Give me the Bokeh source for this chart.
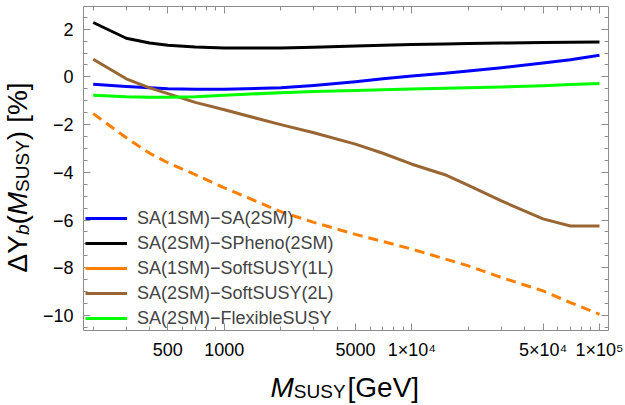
import math
from bokeh.plotting import figure
from bokeh.models import (Range1d, FixedTicker, LogAxis, LinearAxis, Legend,
                          LegendItem, Label)
from bokeh.embed import file_html
from bokeh.resources import INLINE

# ---------------- data ----------------
mass = [200, 300, 400, 500, 700, 1000, 2000, 3000, 5000, 7000,
        10000, 15000, 20000, 30000, 50000, 70000, 100000]
sa1_sa2 = [-0.31, -0.40, -0.46, -0.50, -0.52, -0.52, -0.46, -0.36, -0.20, -0.08,
           0.04, 0.15, 0.25, 0.38, 0.58, 0.72, 0.91]
sa2_spheno = [2.28, 1.62, 1.42, 1.33, 1.25, 1.21, 1.21, 1.24, 1.29, 1.33,
              1.36, 1.38, 1.40, 1.42, 1.44, 1.45, 1.46]
sa1_soft1l = [-1.54, -2.55, -3.20, -3.60, -4.10, -4.65, -5.65, -6.10, -6.60, -6.90,
              -7.22, -7.63, -7.92, -8.41, -8.97, -9.46, -9.95]
sa2_soft2l = [0.74, -0.08, -0.46, -0.70, -1.07, -1.38, -2.00, -2.34, -2.82, -3.20,
              -3.66, -4.10, -4.55, -5.20, -5.95, -6.25, -6.25]
sa2_flex = [-0.77, -0.83, -0.85, -0.85, -0.83, -0.77, -0.66, -0.61, -0.57, -0.54,
            -0.51, -0.48, -0.46, -0.42, -0.37, -0.32, -0.28]

series_names = ["SA(1SM)\u2212SA(2SM)", "SA(2SM)\u2212SPheno(2SM)",
                "SA(1SM)\u2212SoftSUSY(1L)", "SA(2SM)\u2212SoftSUSY(2L)",
                "SA(2SM)\u2212FlexibleSUSY"]

x_ticks = [500, 1000, 5000, 10000, 50000, 100000]
x_tick_labels = ["500", "1000", "5000", "1\u00d710\u2074", "5\u00d710\u2074", "1\u00d710\u2075"]
x_minor = [200, 300, 400, 600, 700, 800, 900, 2000, 3000, 4000, 6000, 7000, 8000, 9000,
           20000, 30000, 40000, 60000, 70000, 80000, 90000]
y_ticks = [-10, -8, -6, -4, -2, 0, 2]
y_tick_labels = ["\u221210", "\u22128", "\u22126", "\u22124", "\u22122", "0", "2"]
y_minor = [v / 2 for v in range(-21, 6)]

# ---------------- geometry ----------------
X0, X1 = 177.5, 111700.0      # visible plot box (data)
Y0, Y1 = -10.63, 2.95
L, R, T, B = 83, 17, 6, 75    # box margins in pixels
W, H = 625, 405
PXD = (W - L - R) / (math.log10(X1) - math.log10(X0))
PYU = (H - T - B) / (Y1 - Y0)
XA = 10 ** (math.log10(X0) - L / PXD)
XB = 10 ** (math.log10(X1) + R / PXD)
YA = Y0 - B / PYU
YB = Y1 + T / PYU

p = figure(width=W, height=H, x_axis_type="log", output_backend="svg",
           toolbar_location=None, x_range=Range1d(XA, XB), y_range=Range1d(YA, YB),
           min_border=0, min_border_left=0, min_border_right=0,
           min_border_top=0, min_border_bottom=0)
p.grid.visible = False
p.outline_line_color = None
p.background_fill_color = "white"
p.border_fill_color = "white"

FONT = "Liberation Sans"
GRAY = "#8c8c8c"

def style_axis(ax, show_labels):
    ax.axis_line_color = GRAY
    ax.axis_line_width = 1
    ax.major_tick_line_color = GRAY
    ax.minor_tick_line_color = GRAY
    ax.major_tick_in = 7
    ax.major_tick_out = 0
    ax.minor_tick_in = 4
    ax.minor_tick_out = 0
    ax.major_label_text_font = FONT
    ax.major_label_text_font_size = "18px"
    if show_labels:
        ax.major_label_text_color = "black"
    else:
        ax.major_label_text_color = None
        ax.major_label_standoff = 0

xa = p.xaxis[0]
xa.ticker = FixedTicker(ticks=x_ticks, minor_ticks=x_minor)
xa.major_label_overrides = {float(k): v for k, v in zip(x_ticks, x_tick_labels)}
style_axis(xa, True)
xa.major_label_standoff = 9
xa.fixed_location = Y0
xa.bounds = (X0, X1)

ya = p.yaxis[0]
ya.ticker = FixedTicker(ticks=y_ticks, minor_ticks=y_minor)
ya.major_label_overrides = {float(k): v for k, v in zip(y_ticks, y_tick_labels)}
style_axis(ya, True)
ya.major_label_standoff = 10
ya.fixed_location = X0
ya.bounds = (Y0, Y1)

top = LogAxis(ticker=FixedTicker(ticks=x_ticks, minor_ticks=x_minor),
              fixed_location=Y1, bounds=(X0, X1))
style_axis(top, False)
p.add_layout(top, "above")
right = LinearAxis(ticker=FixedTicker(ticks=y_ticks, minor_ticks=y_minor),
                   fixed_location=X1, bounds=(Y0, Y1))
style_axis(right, False)
p.add_layout(right, "right")

# ---------------- lines ----------------
colors = ["#0000ff", "#000000", "#ff8000", "#996633", "#00ff00"]
ys = [sa1_sa2, sa2_spheno, sa1_soft1l, sa2_soft2l, sa2_flex]
renderers = []
for i, (yv, c) in enumerate(zip(ys, colors)):
    dash = "10 6" if i == 2 else "solid"
    r = p.line(mass, yv, line_color=c, line_width=3, line_dash=dash,
               line_join="round")
    renderers.append(r)

# hidden legend proxy for the orange series (solid sample in the legend)
proxy = p.line(mass, sa1_soft1l, line_color=colors[2], line_width=3, visible=False)
legend_renderers = [renderers[0], renderers[1], proxy, renderers[3], renderers[4]]
items = [LegendItem(label=n, renderers=[r]) for n, r in zip(series_names, legend_renderers)]
leg = Legend(items=items, location=(L + 2, B + 1), margin=0, padding=0, spacing=3,
             glyph_width=42, glyph_height=22, label_height=22, label_standoff=10,
             label_text_font=FONT, label_text_font_size="18px",
             background_fill_alpha=0, border_line_color=None,
             click_policy="none", inactive_fill_alpha=0)
p.add_layout(leg, "center")

# ---------------- composite axis titles ----------------
def to_data(px, py):
    return (10 ** (math.log10(X0) + (px - L) / PXD), Y1 - (py - T) / PYU)

AW = {"\u0394": 668, "Y": 667, "b": 556, "(": 333, ")": 333, "M": 833, "S": 667,
      "U": 722, " ": 278, "[": 278, "]": 278, "%": 889, "G": 778, "e": 556, "V": 667}

def text_w(s, size):
    return sum(AW.get(ch, 600) for ch in s) * size / 1000.0

def add_text(s, px, py, size, italic=False, angle=0.0):
    x, y = to_data(px, py)
    p.add_layout(Label(x=x, y=y, text=s, text_font=FONT, text_font_size=f"{size}px",
                       text_font_style="italic" if italic else "normal",
                       text_color="black", angle=angle, text_align="left",
                       text_baseline="alphabetic"))

BIG, SMALL = 28, 19
# x title: M_SUSY[GeV]
xb = 387
cx = 270
for s, sz, it, dy, gap in [("M", BIG, True, 0, 0), ("SUSY", SMALL, False, 4, 2),
                           ("[GeV]", BIG, False, 0, 0)]:
    add_text(s, cx, xb + dy, sz, it)
    cx += text_w(s, sz) + gap

# y title: ΔY_b(M_SUSY) [%]
yb = 17
cy = 272
for s, sz, it, dx, gap in [("\u0394Y", BIG, False, 0, 0), ("b", SMALL, True, 5, 0),
                           ("(", BIG, False, 0, 0), ("M", BIG, True, 0, 0),
                           ("SUSY", SMALL, False, 5, 0), (")", BIG, False, 0, 8),
                           ("[%]", BIG, False, 0, 0)]:
    add_text(s, yb + dx, cy, sz, it, angle=math.pi / 2)
    cy -= text_w(s, sz) + gap

open("out.html", "w").write(file_html(p, INLINE))
